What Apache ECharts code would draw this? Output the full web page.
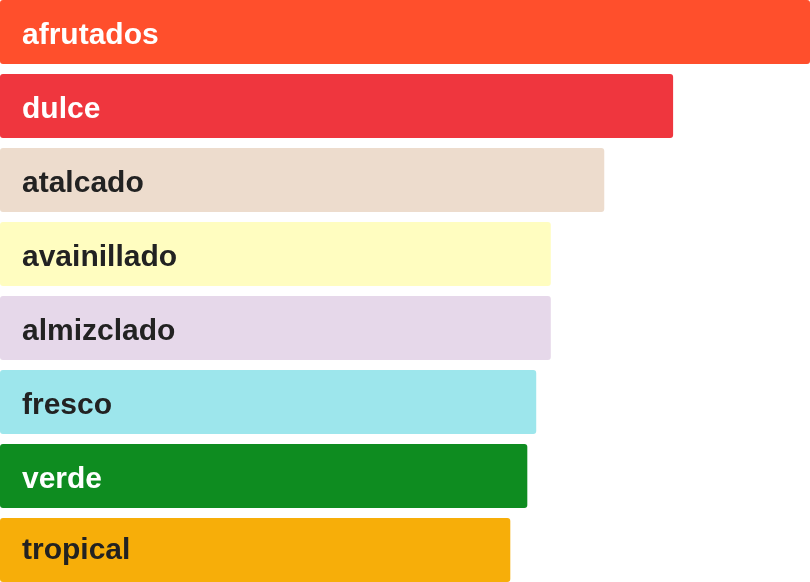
<!DOCTYPE html>
<html>
<head>
<meta charset="utf-8">
<title>Aromas</title>
<script src="https://cdn.jsdelivr.net/npm/echarts@6/dist/echarts.min.js"></script>
<style>
  html, body { margin: 0; padding: 0; background: #fff; overflow: hidden; }
  /* 8 bands of 74px; the half gaps at top and bottom fall outside the window */
  #chart { width: 810px; height: 592px; margin-top: -5px; }
</style>
</head>
<body>
<div id="chart"></div>
<script>
const categories = ["afrutados", "dulce", "atalcado", "avainillado", "almizclado", "fresco", "verde", "tropical"];
const values = [100, 83.1, 74.6, 68.0, 68.0, 66.2, 65.1, 63.0];
const barColors = ["#ff4f2c", "#ef363e", "#eddccd", "#fffdc0", "#e6d8ea", "#9de6ec", "#0e8c20", "#f7ae09"];
const labelColors = ["#ffffff", "#ffffff", "#222222", "#222222", "#222222", "#222222", "#ffffff", "#222222"];

const chartDOM = echarts.init(document.getElementById("chart"));

const options = {
  animation: false,
  grid: {
    left: 0,
    right: 0,
    top: 0,
    bottom: 0
  },
  xAxis: {
    type: "value",
    min: 0,
    max: 100,
    show: false
  },
  yAxis: {
    type: "category",
    data: categories,
    inverse: true,
    show: false
  },
  series: [{
    type: "bar",
    barWidth: 64,
    data: values.map((v, i) => ({
      value: v,
      itemStyle: { color: barColors[i], borderRadius: 3 },
      // last label sits a little higher in the original
      label: { color: labelColors[i], offset: [0, i === categories.length - 1 ? 1 : 4] }
    })),
    label: {
      show: true,
      position: "insideLeft",
      distance: 22,
      formatter: p => categories[p.dataIndex],
      fontFamily: "Liberation Sans, Arial, sans-serif",
      fontWeight: "bold",
      fontSize: 30
    }
  }]
};

chartDOM.setOption(options, true);
</script>
</body>
</html>
